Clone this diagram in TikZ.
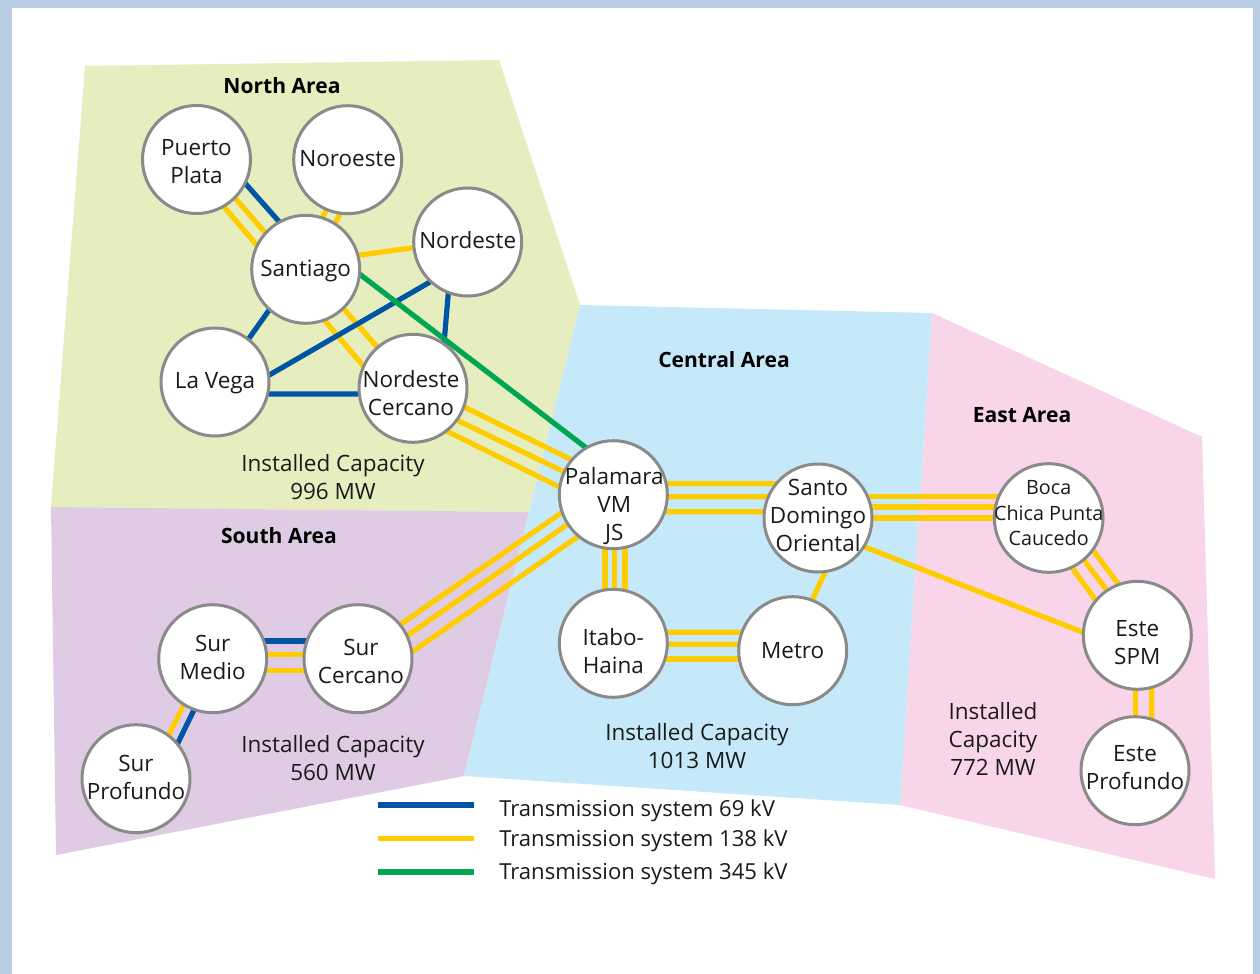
\documentclass[tikz,border=0pt]{standalone}
\usepackage{fontspec}
\usetikzlibrary{calc}
\setmainfont{Open Sans}
\newdimen\pxu \pxu=0.75pt
\newcommand\ntxt[3]{\raisebox{#2\pxu}[0pt][0pt]{\hspace*{#1\pxu}\begin{tabular}[c]{@{}c@{}}#3\end{tabular}\hspace*{-#1\pxu}}}
\definecolor{frameblue}{HTML}{B8CCE4}
\definecolor{areagreen}{HTML}{E6EEC0}
\definecolor{areablue}{HTML}{C6E9F9}
\definecolor{areapink}{HTML}{F8D5E8}
\definecolor{areapurple}{HTML}{DFCBE3}
\definecolor{line69}{HTML}{0054A4}
\definecolor{line138}{HTML}{FFCC00}
\definecolor{line345}{HTML}{00A651}
\definecolor{ringgray}{HTML}{8A8A8A}
\definecolor{inkblack}{HTML}{1A1A1A}
\pgfdeclarelayer{areas}
\pgfdeclarelayer{wires}
\pgfsetlayers{areas,wires,main}
\tikzset{
  x=0.75pt,y=-0.75pt,
  busnode/.style={circle,draw=ringgray,fill=white,line width=2.25pt,inner sep=0pt,outer sep=0pt,minimum size=81pt,text=inkblack,font=\fontsize{16.85}{21}\selectfont},
  plain/.style={text=inkblack,align=center,inner sep=0pt,font=\fontsize{16.85}{21}\selectfont},
  legendtext/.style={text=inkblack,inner sep=0pt,anchor=west,font=\fontsize{16.55}{21}\selectfont},
  areatitle/.style={text=black,inner sep=0pt,font=\fontsize{15.8}{20}\selectfont\bfseries},
  wire/.style={line width=3.9pt},
  w69/.style={wire,draw=line69},
  w138/.style={wire,draw=line138},
  w345/.style={wire,draw=line345},
}
\begin{document}
\begin{tikzpicture}
\useasboundingbox (0,0) rectangle (1260,974);
% nodes
\node[busnode] (pp)   at (196.5,159.5) {\ntxt{0}{-10}{Puerto\\Plata}};
\node[busnode] (nw)   at (347.7,159.7) {\ntxt{0}{-6.5}{Noroeste}};
\node[busnode] (ne)   at (467.7,242)   {\ntxt{0}{-7}{Nordeste}};
\node[busnode] (sant) at (305.7,269.3) {\ntxt{0}{-7.5}{Santiago}};
\node[busnode] (lv)   at (215,382)     {\ntxt{0}{-7}{La Vega}};
\node[busnode] (nc)   at (413,388.3)   {\ntxt{-2}{-13}{Nordeste\\Cercano}};
\node[busnode] (pal)  at (613.3,494.7) {\ntxt{1}{-18}{Palamara\\VM\\JS}};
\node[busnode] (sd)   at (818,518)     {\ntxt{0}{-6}{Santo\\Domingo\\Oriental}};
\node[busnode] (ita)  at (613.3,643.3) {\ntxt{0}{-16}{Itabo-\\Haina}};
\node[busnode] (met)  at (792.7,650.7) {\ntxt{0}{-8}{Metro}};
\node[busnode,font=\fontsize{14.8}{19}\selectfont] (boca) at (1048.7,518) {\ntxt{0}{-2}{Boca\\Chica Punta\\Caucedo}};
\node[busnode] (spm)  at (1137.3,635.3){\ntxt{0}{-15}{Este\\SPM}};
\node[busnode] (ep)   at (1135,770.7)  {\ntxt{0}{-5}{Este\\Profundo}};
\node[busnode] (sm)   at (212.7,658.7) {\ntxt{0}{-6.5}{Sur\\Medio}};
\node[busnode] (sc)   at (358,658.7)   {\ntxt{3}{-10.5}{Sur\\Cercano}};
\node[busnode] (sp)   at (136,778.7)   {\ntxt{0}{-7}{Sur\\Profundo}};
% texts
\node[areatitle] (tn) at (282,86)  {North Area};
\node[areatitle] (ts) at (279,536) {South Area};
\node[areatitle] (tc) at (724,360) {Central Area};
\node[areatitle] (te) at (1022,415){East Area};
\node[plain] (cn) at (333,477)  {Installed Capacity\\996 MW};
\node[plain] (cs) at (333,758)  {Installed Capacity\\560 MW};
\node[plain] (cc) at (697,746)  {Installed Capacity\\1013 MW};
\node[plain] (ce) at (993,738.5)  {Installed\\Capacity\\772 MW};
\node[legendtext] (l69)  at (499,811) {Transmission system 69 kV};
\node[legendtext] (l138) at (499,841) {Transmission system 138 kV};
\node[legendtext] (l345) at (499,874) {Transmission system 345 kV};
\coordinate (a69)  at (378,805);   \coordinate (b69)  at (474,805);
\coordinate (a138) at (378,838.7); \coordinate (b138) at (474,838.7);
\coordinate (a345) at (378,872);   \coordinate (b345) at (474,872);
% areas
\begin{pgfonlayer}{areas}
\fill[frameblue] (0,0) rectangle (1260,974);
\fill[white] (12,8) rectangle (1253,974);
\fill[areagreen] (85,66) -- (499,60) -- (580,305) -- (529,512) -- (51,507) -- cycle;
\fill[areapurple] (51,507) -- (529,512) -- (464,776) -- (56,855) -- cycle;
\fill[areapink] (932,313) -- (1202,437) -- (1215,879) -- (900,805) -- cycle;
\fill[areablue] (580,305) -- (932,313) -- (900,805) -- (464,776) -- cycle;
\end{pgfonlayer}
% connectors
\begin{pgfonlayer}{wires}
\draw[w69] (pp.-26.7) -- (sant.119.8);
\draw[w138] (pp.-45.5) -- (sant.138);
\draw[w138] (pp.-60.4) -- (sant.154.8);
\draw[w138] (nw.-113) -- (sant.72.8);
\draw[w138] (nw.-98.6) -- (sant.57.4);
\draw[w138] (sant.15.4) -- (ne.186);
\draw[w69] (sant.228.6) -- (lv.52.4);
\draw[w138] (sant.-46) -- (nc.131);
\draw[w138] (sant.-70.6) -- (nc.156.2);
\draw[w69] (ne.227.7) -- (lv.7.9);
\draw[w69] (ne.249.3) -- (nc.55.1);
\draw[w69] ($(lv)+(40,12)$) -- ($(nc)+(-40,5.7)$);
\draw[w345] (sant.-5.8) -- (pal.120.3);
\draw[w138] (nc.-20.8) -- (pal.140);
\draw[w138] (nc.-36.9) -- (pal.155.5);
\draw[w138] (nc.-52.4) -- (pal.172.5);
\draw[w138] ($(pal)+(40,-11)$) -- ($(sd)+(-40,-34.3)$);
\draw[w138] ($(pal)+(40,2)$) -- ($(sd)+(-40,-21.3)$);
\draw[w138] ($(pal)+(40,17)$) -- ($(sd)+(-40,-6.3)$);
\draw[w138] ($(pal)+(-8.3,40)$) -- ($(ita)+(-8.3,-40)$);
\draw[w138] ($(pal)+(1,40)$) -- ($(ita)+(1,-40)$);
\draw[w138] ($(pal)+(11.7,40)$) -- ($(ita)+(11.7,-40)$);
\draw[w138] ($(ita)+(40,-11)$) -- ($(met)+(-40,-18.4)$);
\draw[w138] ($(ita)+(40,1)$) -- ($(met)+(-40,-6.4)$);
\draw[w138] ($(ita)+(40,15.7)$) -- ($(met)+(-40,8.3)$);
\draw[w138] (sd.-82.8) -- (met.69);
\draw[w138] (sc.39) -- (pal.199.6);
\draw[w138] (sc.25.2) -- (pal.213.9);
\draw[w138] (sc.7.2) -- (pal.230.2);
\draw[w138] ($(sd)+(40,-21.7)$) -- ($(boca)+(-40,-21.7)$);
\draw[w138] ($(sd)+(40,-11)$) -- ($(boca)+(-40,-11)$);
\draw[w138] (sd.center) -- (boca.center);
\draw[w138] (sd.-32.3) -- (spm.177.2);
\draw[w138] (boca.-65.4) -- (spm.140.1);
\draw[w138] (boca.-50.2) -- (spm.124.1);
\draw[w138] (boca.-36.4) -- (spm.110.7);
\draw[w138] ($(spm)+(-1.6,40)$) -- ($(ep)+(0.7,-40)$);
\draw[w138] ($(spm)+(14.4,40)$) -- ($(ep)+(16.7,-40)$);
\draw[w69] ($(sm)+(40,-17.7)$) -- ($(sc)+(-40,-17.7)$);
\draw[w138] ($(sm)+(40,-4)$) -- ($(sc)+(-40,-4)$);
\draw[w138] ($(sm)+(40,11.6)$) -- ($(sc)+(-40,11.6)$);
\draw[w138] (sm.238.6) -- (sp.53.6);
\draw[w69] (sm.250.9) -- (sp.40);
\draw[w69] (a69) -- (b69);
\draw[w138] (a138) -- (b138);
\draw[w345] (a345) -- (b345);
\end{pgfonlayer}
\end{tikzpicture}
\end{document}
